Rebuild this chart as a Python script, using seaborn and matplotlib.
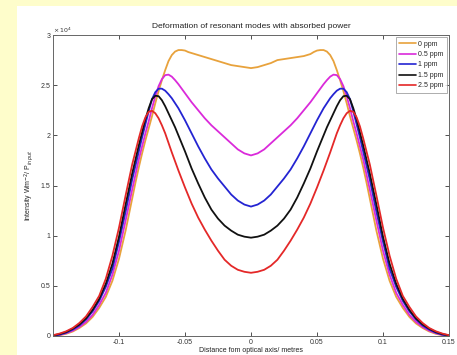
import numpy as np
import pandas as pd
import matplotlib
matplotlib.use("Agg")
import matplotlib.pyplot as plt
from matplotlib.ticker import FixedLocator, FuncFormatter
import seaborn as sns

# Distance from the optical axis (metres); finer spacing around the peaks
distance = [
    -0.150, -0.145, -0.140, -0.135, -0.130, -0.125, -0.120, -0.115, -0.110, -0.105,
    -0.100, -0.095, -0.090,
    -0.0875, -0.085, -0.0825, -0.080, -0.0775, -0.075, -0.0725, -0.070, -0.0675,
    -0.065, -0.0625, -0.060, -0.0575, -0.055, -0.0525, -0.050, -0.0475, -0.045,
    -0.040, -0.035, -0.030, -0.025, -0.020, -0.015, -0.010, -0.005,
    0.000,
    0.005, 0.010, 0.015, 0.020, 0.025, 0.030, 0.035, 0.040,
    0.045, 0.0475, 0.050, 0.0525, 0.055, 0.0575, 0.060, 0.0625, 0.065,
    0.0675, 0.070, 0.0725, 0.075, 0.0775, 0.080, 0.0825, 0.085, 0.0875,
    0.090, 0.095, 0.100, 0.105, 0.110, 0.115, 0.120, 0.125, 0.130, 0.135,
    0.140, 0.145, 0.150,
]

# Intensity profiles in units of 1e4 W m^-2 / P_input
ppm_0 = [
    0.0, 0.008, 0.022, 0.045, 0.08, 0.125, 0.19, 0.28, 0.39, 0.55, 0.77, 1.05, 1.37,
    1.53, 1.68, 1.82, 1.95, 2.07, 2.19, 2.32, 2.44, 2.55,
    2.65, 2.74, 2.80, 2.835, 2.85, 2.85, 2.845, 2.83, 2.82,
    2.80, 2.78, 2.76, 2.74, 2.72, 2.70, 2.69, 2.68,
    2.67,
    2.68, 2.70, 2.72, 2.75, 2.76, 2.77, 2.78, 2.79,
    2.81, 2.83, 2.845, 2.85, 2.85, 2.835, 2.80, 2.74, 2.65,
    2.55, 2.44, 2.32, 2.19, 2.07, 1.95, 1.82, 1.68, 1.53,
    1.37, 1.05, 0.77, 0.55, 0.39, 0.28, 0.19, 0.125, 0.08, 0.045,
    0.022, 0.008, 0.0,
]
ppm_0_5 = [
    0.002, 0.011, 0.028, 0.053, 0.09, 0.14, 0.21, 0.31, 0.43, 0.61, 0.85, 1.15, 1.46,
    1.61, 1.76, 1.89, 2.02, 2.14, 2.27, 2.39, 2.49, 2.56,
    2.60, 2.605, 2.585, 2.55, 2.51, 2.465, 2.42, 2.375, 2.33,
    2.25, 2.17, 2.10, 2.04, 1.98, 1.92, 1.86, 1.82,
    1.80,
    1.82, 1.86, 1.92, 1.98, 2.04, 2.10, 2.17, 2.25,
    2.33, 2.375, 2.42, 2.465, 2.51, 2.55, 2.585, 2.605, 2.60,
    2.56, 2.49, 2.39, 2.27, 2.14, 2.02, 1.89, 1.76, 1.61,
    1.46, 1.15, 0.85, 0.61, 0.43, 0.31, 0.21, 0.14, 0.09, 0.053,
    0.028, 0.011, 0.002,
]
ppm_1 = [
    0.003, 0.013, 0.033, 0.064, 0.105, 0.165, 0.245, 0.35, 0.49, 0.67, 0.94, 1.24, 1.56,
    1.70, 1.84, 1.98, 2.11, 2.24, 2.36, 2.43, 2.465, 2.465,
    2.445, 2.41, 2.37, 2.32, 2.27, 2.21, 2.15, 2.085, 2.02,
    1.89, 1.77, 1.66, 1.57, 1.49, 1.41, 1.35, 1.31,
    1.29,
    1.31, 1.35, 1.41, 1.49, 1.57, 1.66, 1.77, 1.89,
    2.02, 2.085, 2.15, 2.21, 2.27, 2.32, 2.37, 2.41, 2.445,
    2.465, 2.465, 2.43, 2.36, 2.24, 2.11, 1.98, 1.84, 1.70,
    1.56, 1.24, 0.94, 0.67, 0.49, 0.35, 0.245, 0.165, 0.105, 0.064,
    0.033, 0.013, 0.003,
]
ppm_1_5 = [
    0.006, 0.019, 0.04, 0.073, 0.115, 0.175, 0.26, 0.37, 0.52, 0.72, 0.99, 1.31, 1.62,
    1.76, 1.90, 2.03, 2.16, 2.27, 2.36, 2.395, 2.39, 2.35,
    2.29, 2.22, 2.15, 2.08, 2.00, 1.92, 1.84, 1.755, 1.67,
    1.52, 1.38, 1.26, 1.17, 1.10, 1.05, 1.01, 0.99,
    0.98,
    0.99, 1.01, 1.05, 1.10, 1.17, 1.26, 1.38, 1.52,
    1.67, 1.755, 1.84, 1.92, 2.00, 2.08, 2.15, 2.22, 2.29,
    2.35, 2.39, 2.395, 2.36, 2.27, 2.16, 2.03, 1.90, 1.76,
    1.62, 1.31, 0.99, 0.72, 0.52, 0.37, 0.26, 0.175, 0.115, 0.073,
    0.04, 0.019, 0.006,
]
ppm_2_5 = [
    0.008, 0.024, 0.047, 0.08, 0.13, 0.195, 0.29, 0.40, 0.57, 0.80, 1.08, 1.40, 1.71,
    1.84, 1.97, 2.09, 2.18, 2.235, 2.245, 2.22, 2.17, 2.10,
    2.02, 1.925, 1.83, 1.74, 1.65, 1.565, 1.48, 1.40, 1.32,
    1.18, 1.06, 0.95, 0.85, 0.76, 0.70, 0.66, 0.64,
    0.63,
    0.64, 0.66, 0.70, 0.76, 0.85, 0.95, 1.06, 1.18,
    1.32, 1.40, 1.48, 1.565, 1.65, 1.74, 1.83, 1.925, 2.02,
    2.10, 2.17, 2.22, 2.245, 2.235, 2.18, 2.09, 1.97, 1.84,
    1.71, 1.40, 1.08, 0.80, 0.57, 0.40, 0.29, 0.195, 0.13, 0.08,
    0.047, 0.024, 0.008,
]

series_labels = ["0 ppm", "0.5 ppm", "1 ppm", "1.5 ppm", "2.5 ppm"]
series_values = [ppm_0, ppm_0_5, ppm_1, ppm_1_5, ppm_2_5]
series_colors = ["#E8A23C", "#DA2ADA", "#2424D2", "#111111", "#E42828"]

x_ticks = [-0.1, -0.05, 0, 0.05, 0.1, 0.15]
x_tick_labels = ["-0.1", "-0.05", "0", "0.05", "0.1", "0.15"]
y_ticks = [0, 0.5, 1, 1.5, 2, 2.5, 3]
SCALE = 1e4

frames = []
for label, vals in zip(series_labels, series_values):
    assert len(vals) == len(distance), label
    frames.append(pd.DataFrame({
        "distance": distance,
        "intensity": np.asarray(vals) * SCALE,
        "absorption": label,
    }))
df = pd.concat(frames, ignore_index=True)

sns.set_style("ticks")
plt.rcParams["font.family"] = ["Liberation Sans", "DejaVu Sans"]

fig = plt.figure(figsize=(4.57, 3.55), dpi=100)
fig.patch.set_facecolor("#FEFDCB")

# white page panel behind the plot
bg = fig.add_axes([17 / 457, 0, 1 - 17 / 457, 1 - 6 / 355], zorder=-5)
bg.set_facecolor("white")
bg.set_xticks([])
bg.set_yticks([])
for s in bg.spines.values():
    s.set_visible(False)

ax = fig.add_axes([53 / 457, 1 - 336 / 355, 396 / 457, 301 / 355], zorder=1)
ax.set_facecolor("white")

sns.lineplot(data=df, x="distance", y="intensity", hue="absorption",
             hue_order=series_labels, palette=series_colors,
             linewidth=1.3, ax=ax, legend=True, sort=False)

ax.set_xlim(-0.15, 0.15)
ax.set_ylim(0, 3 * SCALE)
ax.xaxis.set_major_locator(FixedLocator(x_ticks))
ax.set_xticklabels(x_tick_labels)
ax.yaxis.set_major_locator(FixedLocator([v * SCALE for v in y_ticks]))
ax.yaxis.set_major_formatter(FuncFormatter(lambda v, p: f"{v / SCALE:g}"))

ax.tick_params(direction="in", length=3, width=0.6, labelsize=5,
               colors="#333333", pad=2, top=True, right=True)
for s in ax.spines.values():
    s.set_visible(True)
    s.set_color("#666666")
    s.set_linewidth(0.7)

ax.text(0.0, 1.0, r"$\times\,10^4$", transform=ax.transAxes,
        ha="left", va="bottom", fontsize=4.5, color="#333333")

ax.set_title("Deformation of resonant modes with absorbed power",
             fontsize=6, color="#222222", pad=5)
ax.set_xlabel("Distance fom optical axis/ metres", fontsize=5,
              color="#222222", labelpad=1)
ax.set_ylabel(r"Intensity Wm$^{-2}$/ P$_{input}$", fontsize=5,
              color="#222222", labelpad=3)

leg = ax.legend(loc="upper right", fontsize=5, frameon=True, fancybox=False,
                handlelength=2.4, handletextpad=0.3, borderpad=0.5,
                labelspacing=0.5, borderaxespad=0.3, title=None)
leg.get_frame().set_edgecolor("#888888")
leg.get_frame().set_linewidth(0.6)
for line in leg.get_lines():
    line.set_linewidth(1.2)

fig.savefig("out.png", dpi=100, facecolor=fig.get_facecolor())
